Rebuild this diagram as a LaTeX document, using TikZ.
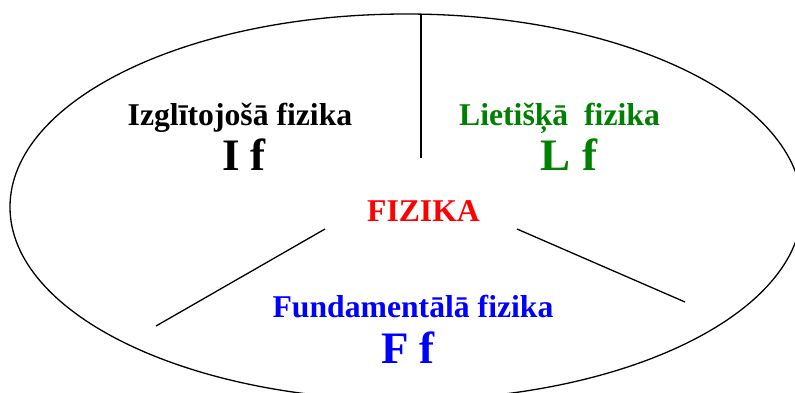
\documentclass[tikz,border=0pt]{standalone}
\usepackage{fontspec}
\setmainfont{Liberation Serif}
\definecolor{lgreen}{RGB}{0,128,0}
\definecolor{lblue}{RGB}{0,0,255}
\definecolor{lred}{RGB}{255,0,0}
\tikzset{
  lbl/.style={anchor=base, inner sep=0pt, font=\fontsize{31.7}{36}\selectfont\bfseries},
  big/.style={anchor=base, inner sep=0pt, font=\fontsize{45}{50}\selectfont\bfseries},
  rule/.style={line width=1.3pt, black}
}
\begin{document}
\begin{tikzpicture}[x=1pt,y=-1pt]
\useasboundingbox (0,0) rectangle (795,392);
\clip (0,0) rectangle (795,392);
\draw[rule] (406,207) ellipse [x radius=396, y radius=193];
\coordinate (vtop) at (421,14);
\coordinate (vbot) at (421,158);
\coordinate (la) at (325,229);
\coordinate (lb) at (156,326);
\coordinate (ra) at (517,229);
\coordinate (rb) at (685,302);
\draw[rule] (vtop) -- (vbot);
\draw[rule] (la) -- (lb);
\draw[rule] (ra) -- (rb);
\node[lbl] (izg) at (240,125) {Izglītojošā fizika};
\node[big] (if) at (244,170) {I f};
\node[lbl, text=lgreen] (liet) at (559.5,125) {Lietišķā\ \ fizika};
\node[big, text=lgreen] (lf) at (569,170) {L f};
\node[lbl, text=lred] (fiz) at (423.5,221) {FIZIKA};
\node[lbl, text=lblue] (fund) at (413,317) {Fundamentālā fizika};
\node[big, text=lblue] (ff) at (408,363) {F f};
\end{tikzpicture}
\end{document}
